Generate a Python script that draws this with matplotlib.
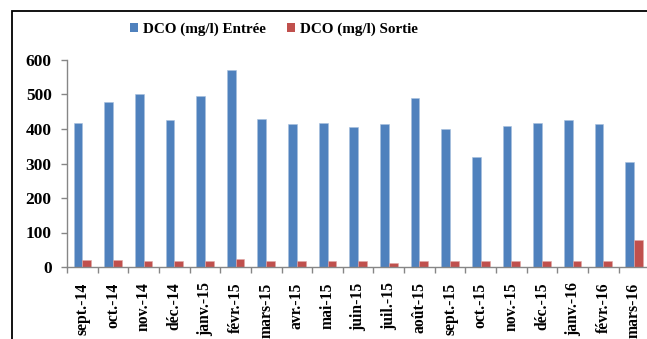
import numpy as np
import matplotlib
matplotlib.use("Agg")
import matplotlib.pyplot as plt
from matplotlib.patches import Rectangle, Patch

categories = ["sept.-14", "oct.-14", "nov.-14", "déc.-14", "janv.-15", "févr.-15",
              "mars-15", "avr.-15", "mai-15", "juin-15", "juil.-15", "août-15",
              "sept.-15", "oct.-15", "nov.-15", "déc.-15", "janv.-16", "févr.-16",
              "mars-16"]
entree = [418, 479, 500, 425, 496, 570, 429, 414, 418, 407, 414, 489,
          400, 319, 409, 418, 425, 414, 305]
sortie = [19, 21, 18, 16, 18, 23, 18, 16, 16, 16, 13, 16,
          16, 16, 16, 16, 16, 16, 78]
series_names = ["DCO (mg/l) Entrée", "DCO (mg/l) Sortie"]
yticks = [0, 100, 200, 300, 400, 500, 600]

BLUE = "#4F81BD"
RED = "#C0504D"
GRAY = "#868686"
FONT = "Liberation Serif"

W, H = 647, 339
fig = plt.figure(figsize=(W / 100, H / 100), dpi=100)
fig.patch.set_facecolor("white")

left, right, top, bottom = 67, 67 + 19 * 30.65, 60, 267
ax = fig.add_axes([left / W, 1 - bottom / H, (right - left) / W, (bottom - top) / H])

x = np.arange(len(categories))
w = 0.285
ax.bar(x - w / 2, entree, w, color=BLUE, edgecolor="#A7C0DE", linewidth=0.4)
ax.bar(x + w / 2, sortie, w, color=RED, edgecolor="#E0A8A6", linewidth=0.4)

ax.set_xlim(-0.5, len(categories) - 0.5)
ax.set_ylim(0, 600)

for s in ["top", "right"]:
    ax.spines[s].set_visible(False)
for s in ["left", "bottom"]:
    ax.spines[s].set_color(GRAY)
    ax.spines[s].set_linewidth(1.0)

ax.set_xticks(x)
ax.set_xticklabels(categories, rotation=90, fontfamily=FONT, fontweight="bold",
                   fontsize=11.3)
ax.tick_params(axis="x", which="major", length=0, pad=11)
ax.set_xticks(np.arange(-0.5, len(categories), 1.0), minor=True)
ax.tick_params(axis="x", which="minor", length=4, color=GRAY, width=1.0)

ax.set_yticks(yticks)
ax.set_yticklabels([str(v) for v in yticks], fontfamily=FONT, fontweight="bold",
                   fontsize=12.5)
ax.tick_params(axis="y", length=4, color=GRAY, width=1.0, pad=7)

handles = [Patch(facecolor=BLUE, edgecolor="none"), Patch(facecolor=RED, edgecolor="none")]
fig.legend(handles, series_names, loc="center", bbox_to_anchor=(274 / W, 1 - 29 / H),
           ncol=2, frameon=False, handlelength=0.55, handleheight=0.55,
           handletextpad=0.3, columnspacing=1.4,
           prop={"family": FONT, "weight": "bold", "size": 10.9})

fig.add_artist(Rectangle((12 / W, -0.2), 1.5, 0.2 + (1 - 11 / H), transform=fig.transFigure,
                         fill=False, edgecolor="black", linewidth=1.3, clip_on=False))

fig.savefig("out.png", dpi=100)
